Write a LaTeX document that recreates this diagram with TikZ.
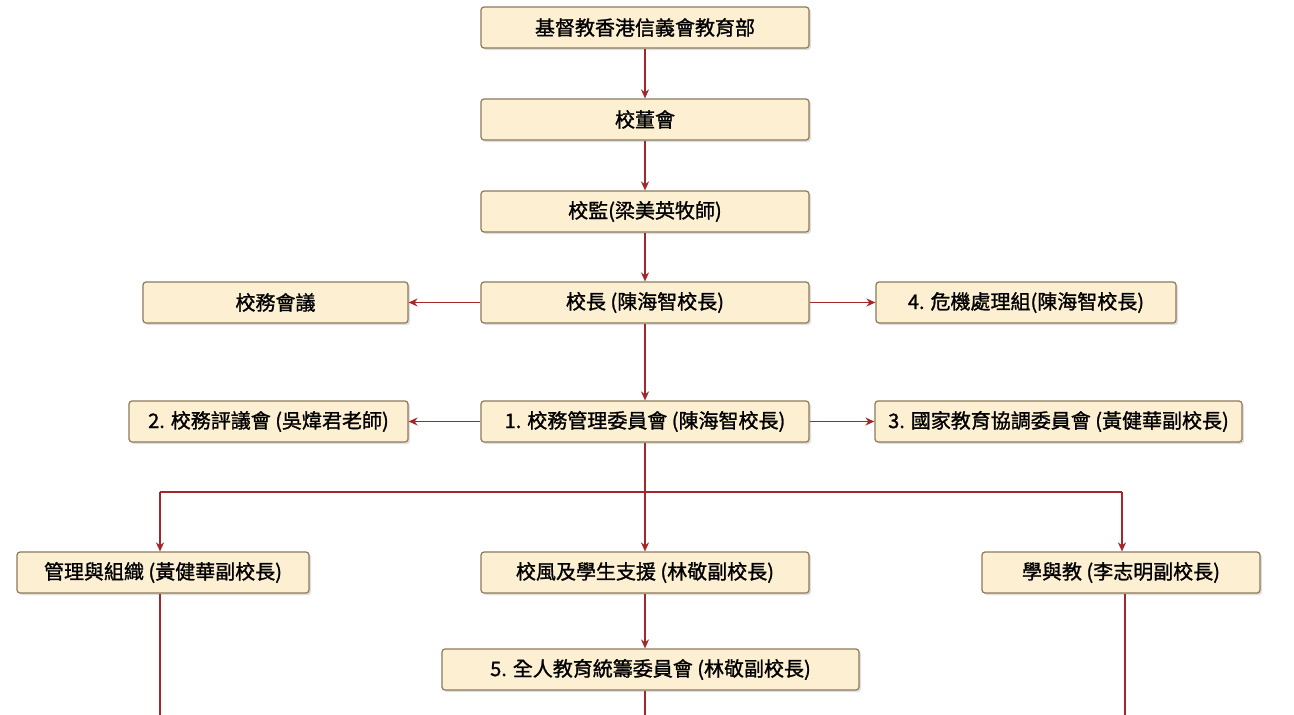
\documentclass[tikz,border=0pt]{standalone}
\usepackage{fontspec}
\setmainfont{Noto Sans CJK TC}[FakeBold=1.2]
\usetikzlibrary{arrows.meta,shadows}
\definecolor{boxfill}{HTML}{FCEFD2}
\definecolor{boxline}{HTML}{8C7A5A}
\definecolor{arr}{HTML}{A3262A}
\begin{document}
\begin{tikzpicture}[x=1pt,y=-1pt,
  box/.style={draw=boxline,fill=boxfill,rounded corners=3pt,line width=1.2pt,
    drop shadow={shadow xshift=2pt,shadow yshift=-2pt,opacity=0.25},
    inner sep=0pt,font=\fontsize{20}{24}\selectfont},
  con/.style={draw=arr,line width=1.6pt,-{Stealth[length=9pt,width=8pt]}},
  ln/.style={draw=arr,line width=1.6pt}]
\useasboundingbox[fill=white] (0,0) rectangle (1294,715);
\newcommand\bx[6]{\node[box,minimum width=#4-#3,minimum height=#6-#5] (#1) at ({(#3+#4)/2},{(#5+#6)/2}) {#2};}
\bx{a}{基督教香港信義會教育部}{481}{809}{7}{48}
\bx{b}{校董會}{481}{809}{99}{140}
\bx{c}{校監(梁美英牧師)}{481}{809}{191}{232}
\bx{d}{校長 (陳海智校長)}{481}{809}{282}{323}
\bx{dl}{校務會議}{143}{408}{282}{323}
\bx{dr}{4. 危機處理組(陳海智校長)}{876}{1176}{282}{323}
\bx{e}{1. 校務管理委員會 (陳海智校長)}{481}{809}{401}{442}
\bx{el}{2. 校務評議會 (吳煒君老師)}{129}{408}{401}{442}
\bx{er}{3. 國家教育協調委員會 (黃健華副校長)}{875}{1242}{401}{442}
\bx{fl}{管理與組織 (黃健華副校長)}{17}{309}{552}{593}
\bx{f}{校風及學生支援 (林敬副校長)}{481}{809}{552}{593}
\bx{fr}{學與教 (李志明副校長)}{982}{1260}{552}{593}
\bx{g}{5. 全人教育統籌委員會 (林敬副校長)}{442}{859}{649}{690}
\draw[con] (a) -- (b);
\draw[con] (b) -- (c);
\draw[con] (c) -- (d);
\draw[con] (d) -- (dl);
\draw[con] (d) -- (dr);
\draw[con] (d) -- (e);
\draw[con] (e) -- (el);
\draw[con] (e) -- (er);
\draw[con] (e) -- (f);
\coordinate (jl) at (160,492);
\coordinate (jr) at (1122,492);
\draw[ln] (jl) -- (jr);
\draw[con] (jl) -- (jl|-fl.north);
\draw[con] (jr) -- (jr|-fr.north);
\draw[con] (f.south) -- (f.south|-g.north);
\coordinate (el1) at (160,715);
\coordinate (er1) at (1125,715);
\coordinate (eg) at (645,715);
\draw[ln] (fl.south-|el1) -- (el1);
\draw[ln] (fr.south-|er1) -- (er1);
\draw[ln] (g.south-|eg) -- (eg);
\end{tikzpicture}
\end{document}
